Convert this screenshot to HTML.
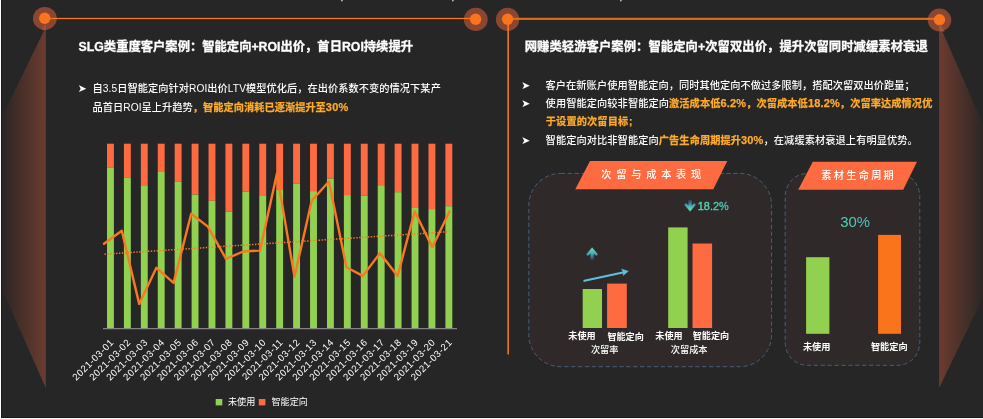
<!DOCTYPE html>
<html lang="zh-CN"><head><meta charset="utf-8"><title>案例</title>
<style>
html,body{margin:0;padding:0;background:#262626;}
body{width:983px;height:419px;overflow:hidden;position:relative;font-family:"Liberation Sans","Noto Sans CJK SC",sans-serif;}
svg text{white-space:pre;}
.cj{font-family:"Liberation Sans","Noto Sans CJK SC",sans-serif;}
.b{font-weight:bold;}
.m{font-weight:500;}
</style></head><body>
<svg width="983" height="419" viewBox="0 0 983 419" style="position:absolute;left:0;top:0">
<defs>
<linearGradient id="gl" gradientUnits="userSpaceOnUse" x1="0" y1="0" x2="46" y2="0"><stop offset="0" stop-color="#282524"/><stop offset="1" stop-color="#6b3c2f"/></linearGradient>
<linearGradient id="gr" gradientUnits="userSpaceOnUse" x1="939" y1="0" x2="986" y2="0"><stop offset="0" stop-color="#6b3c2f"/><stop offset="1" stop-color="#282524"/></linearGradient>
<linearGradient id="gup" x1="0" y1="0" x2="0" y2="1"><stop offset="0" stop-color="#62e8b2"/><stop offset="0.55" stop-color="#4aa7b2"/><stop offset="1" stop-color="#35507f" stop-opacity="0.75"/></linearGradient>
<linearGradient id="gdn" x1="0" y1="0" x2="0" y2="1"><stop offset="0" stop-color="#35507f" stop-opacity="0.75"/><stop offset="0.45" stop-color="#4aa0b4"/><stop offset="1" stop-color="#62eab4"/></linearGradient>
<linearGradient id="g18" x1="0" y1="0" x2="1" y2="0"><stop offset="0" stop-color="#5edcb0"/><stop offset="1" stop-color="#43b9b2"/></linearGradient>
<linearGradient id="g30" x1="0" y1="0" x2="1" y2="0"><stop offset="0" stop-color="#50d4ae"/><stop offset="1" stop-color="#48bcc0"/></linearGradient>
</defs>
<rect x="0" y="0" width="983" height="419" fill="#262626"/>
<polygon points="45.8,27 45.8,388 -38,199" fill="url(#gl)" />
<polygon points="939.1,24 939.1,388 1023,215" fill="url(#gr)" />
<ellipse cx="44.85" cy="18.45" rx="11.9" ry="11.5" fill="#8b4632"/>
<ellipse cx="475.8" cy="19.4" rx="11.9" ry="11.6" fill="#8b4632"/>
<ellipse cx="507.6" cy="19.4" rx="11.7" ry="11.6" fill="#8b4632"/>
<ellipse cx="939.5" cy="19.95" rx="11.8" ry="11.4" fill="#8b4632"/>
<rect x="45" y="17.9" width="431" height="1.2" fill="#f97a1e"/>
<rect x="507" y="17.8" width="433" height="2.1" fill="#e06c1c"/>
<rect x="507.4" y="19" width="1.5" height="335.5" fill="#f97a1e"/>
<circle cx="44.7" cy="18.3" r="5.7" fill="#fa741a"/>
<circle cx="475.6" cy="19.2" r="5.7" fill="#fa741a"/>
<circle cx="507.6" cy="19.2" r="5.7" fill="#fa741a"/>
<circle cx="939.5" cy="19.7" r="5.7" fill="#fa741a"/>
<polygon points="939.2,24.5 940.6,24.5 944.6,31.6 939.2,31.6" fill="#a05c45" opacity="0.85"/>
<polygon points="44.6,24.5 46,24.5 46,30.2 41.8,30.2" fill="#a05c45" opacity="0.6"/>
<rect x="107.00" y="143.7" width="6.9" height="24.20" fill="#ff6b40"/>
<rect x="107.00" y="167.90" width="6.9" height="160.30" fill="#92d050"/>
<rect x="123.92" y="143.7" width="6.9" height="34.20" fill="#ff6b40"/>
<rect x="123.92" y="177.90" width="6.9" height="150.30" fill="#92d050"/>
<rect x="140.84" y="143.7" width="6.9" height="42.30" fill="#ff6b40"/>
<rect x="140.84" y="186.00" width="6.9" height="142.20" fill="#92d050"/>
<rect x="157.76" y="143.7" width="6.9" height="28.30" fill="#ff6b40"/>
<rect x="157.76" y="172.00" width="6.9" height="156.20" fill="#92d050"/>
<rect x="174.68" y="143.7" width="6.9" height="38.20" fill="#ff6b40"/>
<rect x="174.68" y="181.90" width="6.9" height="146.30" fill="#92d050"/>
<rect x="191.60" y="143.7" width="6.9" height="50.90" fill="#ff6b40"/>
<rect x="191.60" y="194.60" width="6.9" height="133.60" fill="#92d050"/>
<rect x="208.52" y="143.7" width="6.9" height="57.10" fill="#ff6b40"/>
<rect x="208.52" y="200.80" width="6.9" height="127.40" fill="#92d050"/>
<rect x="225.44" y="143.7" width="6.9" height="68.00" fill="#ff6b40"/>
<rect x="225.44" y="211.70" width="6.9" height="116.50" fill="#92d050"/>
<rect x="242.36" y="143.7" width="6.9" height="47.80" fill="#ff6b40"/>
<rect x="242.36" y="191.50" width="6.9" height="136.70" fill="#92d050"/>
<rect x="259.28" y="143.7" width="6.9" height="52.30" fill="#ff6b40"/>
<rect x="259.28" y="196.00" width="6.9" height="132.20" fill="#92d050"/>
<rect x="276.20" y="143.7" width="6.9" height="45.60" fill="#ff6b40"/>
<rect x="276.20" y="189.30" width="6.9" height="138.90" fill="#92d050"/>
<rect x="293.12" y="143.7" width="6.9" height="39.70" fill="#ff6b40"/>
<rect x="293.12" y="183.40" width="6.9" height="144.80" fill="#92d050"/>
<rect x="310.04" y="143.7" width="6.9" height="47.40" fill="#ff6b40"/>
<rect x="310.04" y="191.10" width="6.9" height="137.10" fill="#92d050"/>
<rect x="326.96" y="143.7" width="6.9" height="34.90" fill="#ff6b40"/>
<rect x="326.96" y="178.60" width="6.9" height="149.60" fill="#92d050"/>
<rect x="343.88" y="143.7" width="6.9" height="51.40" fill="#ff6b40"/>
<rect x="343.88" y="195.10" width="6.9" height="133.10" fill="#92d050"/>
<rect x="360.80" y="143.7" width="6.9" height="52.00" fill="#ff6b40"/>
<rect x="360.80" y="195.70" width="6.9" height="132.50" fill="#92d050"/>
<rect x="377.72" y="143.7" width="6.9" height="41.50" fill="#ff6b40"/>
<rect x="377.72" y="185.20" width="6.9" height="143.00" fill="#92d050"/>
<rect x="394.64" y="143.7" width="6.9" height="48.50" fill="#ff6b40"/>
<rect x="394.64" y="192.20" width="6.9" height="136.00" fill="#92d050"/>
<rect x="411.56" y="143.7" width="6.9" height="64.30" fill="#ff6b40"/>
<rect x="411.56" y="208.00" width="6.9" height="120.20" fill="#92d050"/>
<rect x="428.48" y="143.7" width="6.9" height="65.40" fill="#ff6b40"/>
<rect x="428.48" y="209.10" width="6.9" height="119.10" fill="#92d050"/>
<rect x="445.40" y="143.7" width="6.9" height="62.50" fill="#ff6b40"/>
<rect x="445.40" y="206.20" width="6.9" height="122.00" fill="#92d050"/>
<rect x="103" y="328.2" width="354" height="1" fill="#9a9a9a"/>
<line x1="104.5" y1="254.2" x2="449.5" y2="231.7" stroke="#f97a1e" stroke-width="1.5" stroke-dasharray="1.4 1.5"/>
<polyline points="104.0,243.8 121.8,230.8 139.2,303.9 156.4,267.8 173.6,282.9 191.2,213.7 207.9,226.6 226,258.8 243.2,251.5 260.0,250.6 276.9,173.7 294.5,276.8 311.7,200.8 328.9,181.5 346.5,267.3 362.8,275.9 380,253.2 397.6,275.9 414.7,211.5 432.3,247.2 449.5,211.5" fill="none" stroke="#f97a1e" stroke-width="2.4" stroke-linejoin="round" stroke-linecap="round"/>
<text transform="translate(114.40,343) rotate(-45)" text-anchor="end" font-size="9.6" letter-spacing="0.48" fill="#fff" font-family="'Liberation Sans',sans-serif">2021-03-01</text>
<text transform="translate(131.32,343) rotate(-45)" text-anchor="end" font-size="9.6" letter-spacing="0.48" fill="#fff" font-family="'Liberation Sans',sans-serif">2021-03-02</text>
<text transform="translate(148.24,343) rotate(-45)" text-anchor="end" font-size="9.6" letter-spacing="0.48" fill="#fff" font-family="'Liberation Sans',sans-serif">2021-03-03</text>
<text transform="translate(165.16,343) rotate(-45)" text-anchor="end" font-size="9.6" letter-spacing="0.48" fill="#fff" font-family="'Liberation Sans',sans-serif">2021-03-04</text>
<text transform="translate(182.08,343) rotate(-45)" text-anchor="end" font-size="9.6" letter-spacing="0.48" fill="#fff" font-family="'Liberation Sans',sans-serif">2021-03-05</text>
<text transform="translate(199.00,343) rotate(-45)" text-anchor="end" font-size="9.6" letter-spacing="0.48" fill="#fff" font-family="'Liberation Sans',sans-serif">2021-03-06</text>
<text transform="translate(215.92,343) rotate(-45)" text-anchor="end" font-size="9.6" letter-spacing="0.48" fill="#fff" font-family="'Liberation Sans',sans-serif">2021-03-07</text>
<text transform="translate(232.84,343) rotate(-45)" text-anchor="end" font-size="9.6" letter-spacing="0.48" fill="#fff" font-family="'Liberation Sans',sans-serif">2021-03-08</text>
<text transform="translate(249.76,343) rotate(-45)" text-anchor="end" font-size="9.6" letter-spacing="0.48" fill="#fff" font-family="'Liberation Sans',sans-serif">2021-03-09</text>
<text transform="translate(266.68,343) rotate(-45)" text-anchor="end" font-size="9.6" letter-spacing="0.48" fill="#fff" font-family="'Liberation Sans',sans-serif">2021-03-10</text>
<text transform="translate(283.60,343) rotate(-45)" text-anchor="end" font-size="9.6" letter-spacing="0.48" fill="#fff" font-family="'Liberation Sans',sans-serif">2021-03-11</text>
<text transform="translate(300.52,343) rotate(-45)" text-anchor="end" font-size="9.6" letter-spacing="0.48" fill="#fff" font-family="'Liberation Sans',sans-serif">2021-03-12</text>
<text transform="translate(317.44,343) rotate(-45)" text-anchor="end" font-size="9.6" letter-spacing="0.48" fill="#fff" font-family="'Liberation Sans',sans-serif">2021-03-13</text>
<text transform="translate(334.36,343) rotate(-45)" text-anchor="end" font-size="9.6" letter-spacing="0.48" fill="#fff" font-family="'Liberation Sans',sans-serif">2021-03-14</text>
<text transform="translate(351.28,343) rotate(-45)" text-anchor="end" font-size="9.6" letter-spacing="0.48" fill="#fff" font-family="'Liberation Sans',sans-serif">2021-03-15</text>
<text transform="translate(368.20,343) rotate(-45)" text-anchor="end" font-size="9.6" letter-spacing="0.48" fill="#fff" font-family="'Liberation Sans',sans-serif">2021-03-16</text>
<text transform="translate(385.12,343) rotate(-45)" text-anchor="end" font-size="9.6" letter-spacing="0.48" fill="#fff" font-family="'Liberation Sans',sans-serif">2021-03-17</text>
<text transform="translate(402.04,343) rotate(-45)" text-anchor="end" font-size="9.6" letter-spacing="0.48" fill="#fff" font-family="'Liberation Sans',sans-serif">2021-03-18</text>
<text transform="translate(418.96,343) rotate(-45)" text-anchor="end" font-size="9.6" letter-spacing="0.48" fill="#fff" font-family="'Liberation Sans',sans-serif">2021-03-19</text>
<text transform="translate(435.88,343) rotate(-45)" text-anchor="end" font-size="9.6" letter-spacing="0.48" fill="#fff" font-family="'Liberation Sans',sans-serif">2021-03-20</text>
<text transform="translate(452.80,343) rotate(-45)" text-anchor="end" font-size="9.6" letter-spacing="0.48" fill="#fff" font-family="'Liberation Sans',sans-serif">2021-03-21</text>
<rect x="215.7" y="399" width="6.6" height="6.4" fill="#92d050"/>
<rect x="258.8" y="399" width="6.6" height="6.4" fill="#ff6b40"/>
<text x="228" y="405.3" font-size="9.1" fill="#fff" class="cj">未使用</text>
<text x="271.5" y="405.3" font-size="9.1" fill="#fff" class="cj">智能定向</text>
<rect x="528.8" y="173.4" width="242.8" height="193.3" rx="32" ry="32" fill="#30292a" stroke="#46607a" stroke-width="1" stroke-dasharray="4.3 2.6"/>
<rect x="785.2" y="173.5" width="134.6" height="191.8" rx="22" ry="23" fill="#30292a" stroke="#46607a" stroke-width="1" stroke-dasharray="4.3 2.6"/>
<polygon points="590,161 727.3,161 713.3,189.2 575.3,189.2" fill="#ff6b40"/>
<polygon points="812.8,161.8 917,161.8 903.2,189.8 798.2,189.8" fill="#ff6b40"/>
<text x="601.2" y="178.4" font-size="10.2" fill="#fff" class="cj m" letter-spacing="4.8">次留与成本表现</text>
<text x="821.2" y="179.4" font-size="10.2" fill="#fff" class="cj m" letter-spacing="2.3">素材生命周期</text>
<rect x="582.7" y="289" width="19.3" height="39" fill="#92d050"/>
<rect x="607.1" y="283.6" width="19.7" height="44.4" fill="#ff6b40"/>
<rect x="668.2" y="227.4" width="19.4" height="100.6" fill="#92d050"/>
<rect x="692.5" y="243.5" width="19.6" height="84.5" fill="#ff6b40"/>
<line x1="584.4" y1="280.8" x2="624" y2="272.2" stroke="#5ec0dc" stroke-width="2.2" stroke-linecap="round"/>
<polygon points="628.4,271.2 621.6,269.0 623.3,272.4 623.2,275.6" fill="#5ec0dc" stroke="#5ec0dc" stroke-width="0.4" stroke-linejoin="round"/>
<path d="M592.1,247.7 L597.6,254.2 L596.3,255.8 L593.5,253.2 L593.5,259.4 L590.7,259.4 L590.7,253.2 L587.9,255.8 L586.6,254.2 Z" fill="url(#gup)" stroke="url(#gup)" stroke-width="0.5" stroke-linejoin="round"/>
<path d="M690.1,211.3 L695.6,204.8 L694.3,203.2 L691.5,205.8 L691.5,200.2 L688.7,200.2 L688.7,205.8 L685.9,203.2 L684.6,204.8 Z" fill="url(#gdn)" stroke="url(#gdn)" stroke-width="0.5" stroke-linejoin="round"/>
<text x="697.8" y="210.1" font-size="10.9" fill="url(#g18)" font-family="'Liberation Sans',sans-serif" stroke="url(#g18)" stroke-width="0.35">18.2%</text>
<text x="568.3" y="338.6" font-size="9.1" fill="#fff" class="cj b">未使用</text>
<text x="607.4" y="339.9" font-size="9.1" fill="#fff" class="cj b">智能定向</text>
<text x="655.3" y="338.6" font-size="9.1" fill="#fff" class="cj b">未使用</text>
<text x="692.7" y="338.6" font-size="9.1" fill="#fff" class="cj b">智能定向</text>
<text x="590.9" y="352.8" font-size="9.2" fill="#fff" class="cj m">次留率</text>
<text x="670.8" y="352.8" font-size="9.2" fill="#fff" class="cj m">次留成本</text>
<rect x="806.1" y="257.2" width="23.3" height="76.6" fill="#92d050"/>
<rect x="878.1" y="234.9" width="22.9" height="98.9" fill="#fa741c"/>
<text transform="translate(840.3,227) scale(0.965,1)" x="0" y="0" font-size="15.4" fill="url(#g30)" font-family="'Liberation Sans',sans-serif">30%</text>
<text x="802.9" y="349.6" font-size="9.2" fill="#fff" class="cj b">未使用</text>
<text x="870.9" y="349.8" font-size="9.2" fill="#fff" class="cj b">智能定向</text>
<text x="78.6" y="51.2" font-size="12.3" fill="#fff" stroke="#fff" stroke-width="0.3" class="cj b">SLG类重度客户案例：智能定向+ROI出价，首日ROI持续提升</text>
<text x="524.7" y="51.2" font-size="12.3" letter-spacing="0.075" fill="#fff" stroke="#fff" stroke-width="0.3" class="cj b">网赚类轻游客户案例：智能定向+次留双出价，提升次留同时减缓素材衰退</text>
<text x="77.8" y="92.3" font-size="10.6" fill="#fff" font-family="'DejaVu Sans',sans-serif">➤</text>
<text x="92.6" y="92.2" font-size="10.2" letter-spacing="0.07" fill="#fff" class="cj m">自3.5日智能定向针对ROI出价LTV模型优化后，在出价系数不变的情况下某产</text>
<text x="92.6" y="110.9" font-size="10.2" letter-spacing="0.05" fill="#fff" class="cj m">品首日ROI呈上升趋势<tspan fill="#ffab2a" stroke="#ffab2a" stroke-width="0.25" class="b">，智能定向消耗已逐渐提升至<tspan font-size="11" letter-spacing="0.15">30%</tspan></tspan></text>
<text x="521.2" y="89.3" font-size="10.6" fill="#fff" font-family="'DejaVu Sans',sans-serif">➤</text>
<text x="521.2" y="106.9" font-size="10.6" fill="#fff" font-family="'DejaVu Sans',sans-serif">➤</text>
<text x="521.2" y="143.8" font-size="10.6" fill="#fff" font-family="'DejaVu Sans',sans-serif">➤</text>
<text x="545.6" y="89.2" font-size="10.2" letter-spacing="0.07" fill="#fff" class="cj m">客户在新账户使用智能定向，同时其他定向不做过多限制，搭配次留双出价跑量；</text>
<text x="545.6" y="107.3" font-size="10.2" letter-spacing="0.1" fill="#fff" class="cj m">使用智能定向较非智能定向<tspan fill="#ffab2a" stroke="#ffab2a" stroke-width="0.25" class="b">激活成本低<tspan font-size="11" letter-spacing="0.15">6.2%</tspan>，次留成本低<tspan font-size="11" letter-spacing="0.15">18.2%</tspan>，次留率达成情况优</tspan></text>
<text x="545.8" y="125.2" font-size="10.2" letter-spacing="0.12" fill="#ffab2a" stroke="#ffab2a" stroke-width="0.25" class="cj b">于设置的次留目标<tspan dx="0.8">;</tspan></text>
<text x="545.6" y="144.3" font-size="10.2" letter-spacing="0.1" fill="#fff" class="cj m">智能定向对比非智能定向<tspan fill="#ffab2a" stroke="#ffab2a" stroke-width="0.25" class="b">广告生命周期提升<tspan font-size="11" letter-spacing="0.15">30%</tspan></tspan>，在减缓素材衰退上有明显优势。</text>
<rect x="0" y="0" width="1" height="419" fill="#fdfdfd"/>
<rect x="1" y="0" width="1" height="418" fill="#1a1a1a"/>
<rect x="1" y="417" width="982" height="1" fill="#1a1a1a"/>
<rect x="0" y="418" width="983" height="1" fill="#f6f6f6"/>
<rect x="341.2" y="0" width="1.4" height="1.3" fill="#d8d8d8"/>
<rect x="452.2" y="0" width="1.4" height="1.3" fill="#d8d8d8"/>
<rect x="620.2" y="0" width="1.4" height="1.3" fill="#d8d8d8"/>
</svg>
</body></html>
